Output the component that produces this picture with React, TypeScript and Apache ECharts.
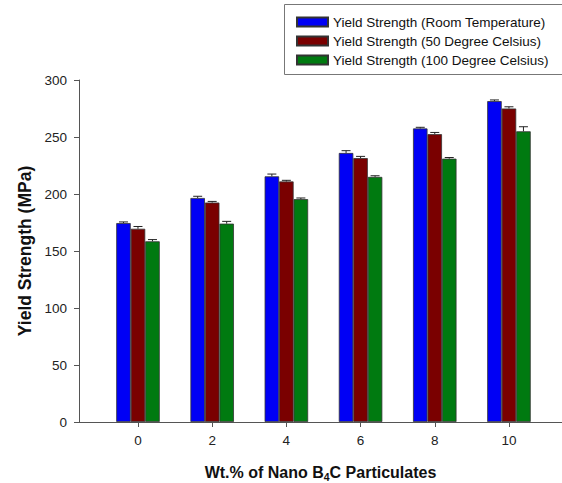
import React, { useEffect, useRef } from "react";
import * as echarts from "echarts";

const categories = [0, 2, 4, 6, 8, 10];
const seriesNames = [
  "Yield Strength (Room Temperature)",
  "Yield Strength (50 Degree Celsius)",
  "Yield Strength (100 Degree Celsius)",
];
const roomTemp = [174.5, 196.5, 215.5, 236, 257.5, 281.5];
const deg50 = [169.5, 192.5, 211, 231.5, 252.5, 275];
const deg100 = [158.5, 174, 195.5, 215, 231, 255];
const roomTempErr = [1, 1.5, 2, 2, 1, 1];
const deg50Err = [2, 1, 1, 1.5, 1.5, 1.5];
const deg100Err = [1.5, 2, 1, 1, 1, 4];
const yTicks = [0, 50, 100, 150, 200, 250, 300];
const colors = ["#0000F5", "#7A0000", "#007A10"];

const FONT = "Arial, 'Liberation Sans', sans-serif";
const BAR_W = 14.5;

export default function App() {
  const ref = useRef<HTMLDivElement>(null);
  useEffect(() => {
    if (!ref.current) return;
    const chart = echarts.init(ref.current, undefined, { renderer: "svg" });
    const values = [roomTemp, deg50, deg100];
    const errs = [roomTempErr, deg50Err, deg100Err];
    const barSeries = values.map((vals, i) => ({
      name: seriesNames[i],
      type: "bar",
      data: categories.map((c, j) => [c, vals[j]]),
      barWidth: BAR_W,
      barGap: "0%",
      itemStyle: { color: colors[i], borderColor: "#333", borderWidth: 0.8 },
      z: 2,
    }));
    const errSeries = values.map((vals, i) => ({
      type: "custom",
      name: "err" + i,
      data: categories.map((c, j) => [c, vals[j], errs[i][j]]),
      encode: { x: 0, y: 1 },
      z: 5,
      silent: true,
      renderItem: (params: any, api: any) => {
        const x = api.value(0);
        const y = api.value(1);
        const e = api.value(2);
        const p = api.coord([x, y]);
        const t = api.coord([x, y + e]);
        const cx = p[0] + (i - 1) * BAR_W;
        const style = { stroke: "#222", lineWidth: 1 };
        return {
          type: "group",
          children: [
            { type: "line", shape: { x1: cx, y1: p[1], x2: cx, y2: t[1] }, style },
            { type: "line", shape: { x1: cx - 4.5, y1: t[1], x2: cx + 4.5, y2: t[1] }, style },
          ],
        };
      },
    }));
    chart.setOption({
      animation: false,
      backgroundColor: "#ffffff",
      grid: { left: 79, right: 0, top: 80, bottom: 61, outerBoundsMode: "none", containLabel: false },
      legend: {
        data: seriesNames,
        orient: "vertical",
        left: 296,
        top: 15,
        padding: 0,
        itemWidth: 31,
        itemHeight: 9,
        itemGap: 5,
        itemTextGap: 7,
        icon: "rect",
        textStyle: { fontFamily: FONT, fontSize: 13.5, color: "#111", lineHeight: 14 },
      },
      graphic: [
        {
          type: "rect",
          shape: { x: 284.5, y: 4.5, width: 300, height: 70 },
          style: { fill: "none", stroke: "#777", lineWidth: 1 },
          z: 0,
        },
      ],
      xAxis: {
        type: "value",
        min: -1.59,
        max: 11.43,
        splitLine: { show: false },
        axisLine: { onZero: false, lineStyle: { color: "#555", width: 1 } },
        axisTick: { show: true, length: 5, customValues: categories, lineStyle: { color: "#555" } },
        axisLabel: {
          customValues: categories,
          margin: 11,
          fontFamily: FONT,
          fontSize: 13.5,
          color: "#222",
        },
        name: "Wt.% of Nano B{sub|4}C Particulates",
        nameLocation: "middle",
        nameGap: 40,
        nameTextStyle: {
          fontFamily: FONT,
          fontSize: 16,
          fontWeight: "bold",
          color: "#111",
          rich: {
            sub: { fontFamily: FONT, fontSize: 10.5, fontWeight: "bold", color: "#111", verticalAlign: "bottom", padding: [9, 0, 0, 0] },
          },
        },
      },
      yAxis: {
        type: "value",
        min: 0,
        max: 300,
        interval: 50,
        splitLine: { show: false },
        axisLine: { show: true, onZero: false, lineStyle: { color: "#555", width: 1 } },
        axisTick: { show: true, length: 5, lineStyle: { color: "#555" } },
        axisLabel: {
          margin: 12,
          fontFamily: FONT,
          fontSize: 13.5,
          color: "#222",
          customValues: yTicks,
        },
        name: "Yield Strength (MPa)",
        nameLocation: "middle",
        nameGap: 44,
        nameTextStyle: { fontFamily: FONT, fontSize: 17.5, fontWeight: "bold", color: "#111" },
      },
      series: [...barSeries, ...errSeries],
    });
    return () => chart.dispose();
  }, []);
  return <div ref={ref} style={{ width: 562, height: 483, position: "absolute", left: 0, top: 0 }} />;
}
